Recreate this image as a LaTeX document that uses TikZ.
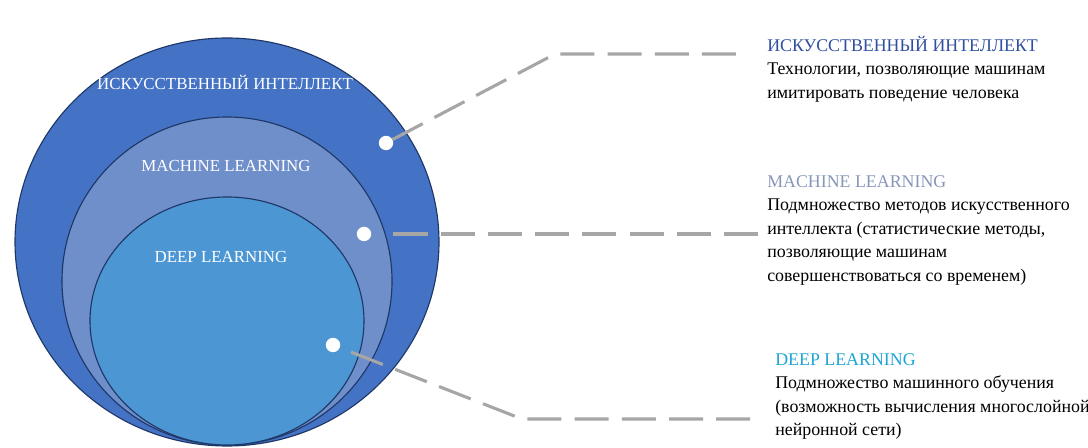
\documentclass[tikz,border=0pt]{standalone}
\usepackage{fontspec}
\setmainfont{Liberation Serif}
\usepackage{tikz}
\definecolor{aiblue}{HTML}{4472C4}
\definecolor{mlblue}{HTML}{6F8FCB}
\definecolor{dlblue}{HTML}{4C97D3}
\definecolor{rim}{HTML}{1E3766}
\definecolor{aititle}{HTML}{2F4F9F}
\definecolor{mltitle}{HTML}{8797BA}
\definecolor{dltitle}{HTML}{1CA5D6}
\definecolor{leader}{HTML}{A6A6A6}
\tikzstyle{ring} = [draw=rim, line width=0.8pt]
\tikzstyle{tag} = [text=white, inner sep=0pt, font={\fontsize{12}{14}\selectfont}]
\tikzstyle{dot} = [circle, fill=white, inner sep=0pt, minimum size=0.36cm]
\tikzstyle{leadline} = [draw=leader, line width=2.2pt, dash pattern=on 0.85cm off 0.33cm]
\tikzstyle{note} = [align=left, anchor=north west, inner sep=0pt, font={\fontsize{12.7}{16.7}\selectfont}]

\begin{document}
\begin{tikzpicture}[x=0.025cm, y=0.025cm]
    \useasboundingbox (0,0) rectangle (1088,448);
    \fill[white] (0,0) rectangle (1088,448);
    % nested sets
    \filldraw[ring, fill=aiblue] (227,206) ellipse [x radius=212, y radius=204];
    \filldraw[ring, fill=mlblue] (227,167) ellipse [x radius=165, y radius=164];
    \filldraw[ring, fill=dlblue] (227,127) ellipse [x radius=137, y radius=124];
    \node[tag](ailabel) at (225,366){ИСКУССТВЕННЫЙ ИНТЕЛЛЕКТ};
    \node[tag](mllabel) at (226,282){MACHINE LEARNING};
    \node[tag](dllabel) at (221,191){DEEP LEARNING};
    \node[dot](aidot) at (386,305){};
    \node[dot](mldot) at (364,214){};
    \node[dot](dldot) at (333,103){};
    % descriptions
    \node[note](ainote) at (767,412){\textcolor{aititle}{ИСКУССТВЕННЫЙ ИНТЕЛЛЕКТ}\\Технологии, позволяющие машинам\\имитировать поведение человека};
    \node[note](mlnote) at (767,273){\textcolor{mltitle}{MACHINE LEARNING}\\Подмножество методов искусственного\\интеллекта (статистические методы,\\позволяющие машинам\\совершенствоваться со временем)};
    \node[note](dlnote) at (775,95){\textcolor{dltitle}{DEEP LEARNING}\\Подмножество машинного обучения\\(возможность вычисления многослойной\\нейронной сети)};
    \coordinate (aibend) at (555,394);
    \coordinate (aiend) at (745,394);
    \coordinate (mlend) at (763,214);
    \coordinate (dlbend) at (522,29);
    \coordinate (dlend) at (760,29);
    \draw[leadline](aidot)--(aibend)--(aiend);
    \draw[leadline, shorten <=0.55cm](mldot)--(mlend);
    \draw[leadline, shorten <=0.3cm](dldot)--(dlbend)--(dlend);
  \end{tikzpicture}
\end{document}
